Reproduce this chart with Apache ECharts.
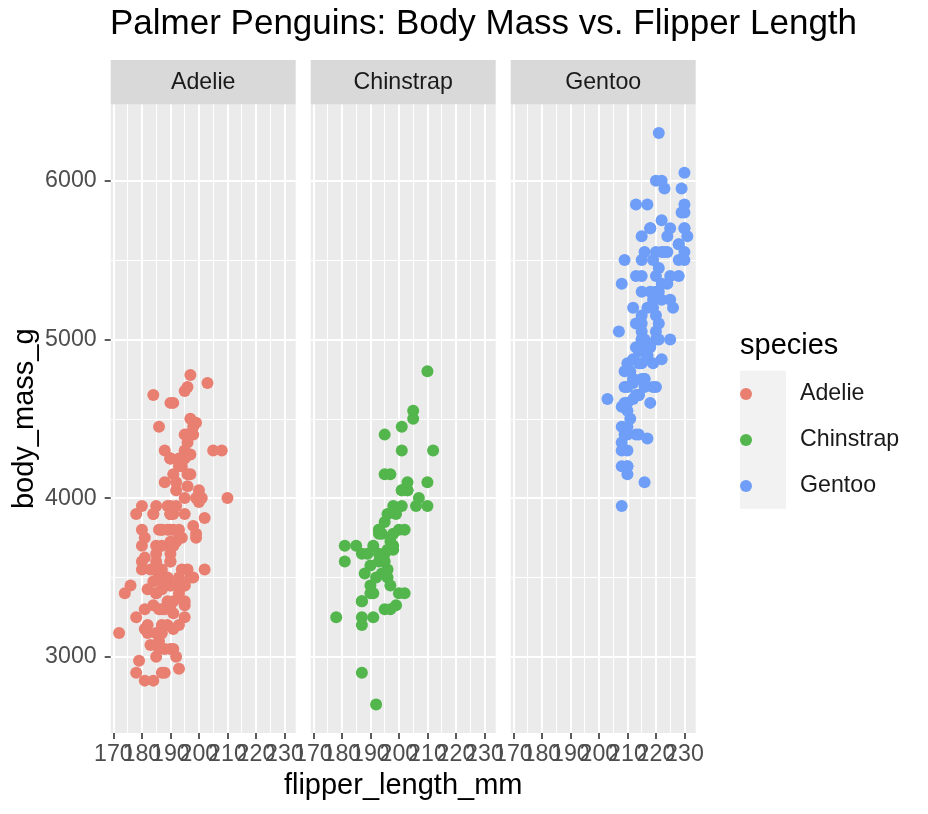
<!DOCTYPE html>
<html>
<head>
<meta charset="utf-8">
<script src="https://cdn.jsdelivr.net/npm/echarts@6/dist/echarts.min.js"></script>
<style>
  html, body { margin: 0; padding: 0; background: #ffffff; }
  #chart { width: 928px; height: 814px; }
</style>
</head>
<body>
<div id="chart"></div>
<script>
// ---------------- data ----------------
const species = ['Adelie', 'Chinstrap', 'Gentoo'];
const speciesColors = ['#E97F71', '#53B64C', '#6E9EF8'];

const adelieFlipper = [181,186,195,193,190,181,195,193,190,186,180,182,191,198,185,195,197,184,194,174,180,189,185,180,187,183,187,172,180,178,178,188,184,195,196,190,180,181,184,182,195,186,196,185,190,182,179,190,191,186,188,190,200,187,191,186,193,181,194,185,195,185,192,184,192,195,188,190,198,190,190,196,197,190,195,191,184,187,195,189,196,187,193,191,194,190,189,189,190,202,205,185,186,187,208,190,196,178,192,192,203,183,190,193,184,199,190,181,197,198,191,193,197,191,196,188,199,189,189,187,198,176,202,186,199,191,195,191,210,190,197,193,199,187,190,191,200,185,193,193,187,188,190,192,185,190,184,195,193,187,201];
const adelieMass = [3750,3800,3250,3450,3650,3625,4675,3475,4250,3300,3700,3200,3800,4400,3700,3450,4500,3325,4200,3400,3600,3800,3950,3800,3800,3550,3200,3150,3950,3250,3900,3300,3900,3325,4150,3950,3550,3300,4650,3150,3900,3100,4400,3000,4600,3425,2975,3450,4150,3500,4300,3450,4050,2900,3700,3550,3800,2850,3750,3150,4400,3600,4050,2850,3950,3350,4100,3050,4450,3600,3900,3550,4150,3700,4250,3700,3900,3550,4000,3200,4700,3800,4200,3350,3550,3800,3500,3950,3600,3550,4300,3400,4450,3300,4300,3700,4350,2900,4100,3725,4725,3075,4250,2925,3550,3750,3900,3175,4775,3825,4600,3200,4275,3900,4075,2900,3775,3350,3325,3150,3500,3450,3875,3050,4000,3275,4300,3050,4000,3325,3500,3500,4475,3425,3900,3175,3975,3400,4250,3400,3475,3050,3725,3000,3650,4250,3475,3450,3750,3700,4000];

const chinstrapFlipper = [192,196,193,188,197,198,178,197,195,198,193,194,185,201,190,201,197,181,190,195,181,191,187,193,195,197,200,200,191,205,187,201,187,203,195,199,195,210,192,205,210,187,196,196,196,201,190,212,187,198,199,201,193,203,187,197,191,203,202,194,206,189,195,207,202,193,210,198];
const chinstrapMass = [3500,3900,3650,3525,3725,3950,3250,3750,4150,3700,3800,3775,3700,4050,3575,4050,3300,3700,3450,4400,3600,3400,2900,3800,3300,4150,3400,3800,3700,4550,3200,4300,3350,4100,3600,3900,3850,4800,2700,4500,3950,3650,3550,3500,3675,4450,3400,4300,3250,3675,3325,3950,3600,4050,3350,3450,3250,4050,3800,3525,3950,3650,3650,4000,3400,3775,4100,3775];

const gentooFlipper = [211,230,210,218,215,210,211,219,209,215,214,216,214,213,210,217,210,221,209,222,218,215,213,215,215,215,216,215,210,220,222,209,207,230,220,220,213,219,208,208,208,225,210,216,222,217,210,225,213,215,210,220,210,225,217,220,208,220,208,224,208,221,214,231,219,230,214,229,220,223,216,221,221,217,216,230,209,220,215,223,212,221,212,224,212,228,218,218,212,230,218,228,212,224,214,226,216,222,203,225,219,228,215,228,216,215,210,219,208,209,216,229,213,230,217,230,217,222,214,215,222,212,213];
const gentooMass = [4500,5700,4450,5700,5400,4550,4800,5200,4400,5150,4650,5550,4650,5850,4200,5850,4150,6300,4800,5350,5700,5000,4400,5050,5000,5100,4100,5650,4600,5550,5250,4700,5050,6050,5150,5400,4950,5250,4350,5350,3950,5700,4300,4750,5550,4900,4200,5400,5100,5300,4850,5300,4400,5000,4900,5050,4300,5000,4450,5550,4200,5300,4400,5650,4700,5700,4650,5800,4700,5550,4750,5000,5100,5200,4700,5800,4600,6000,4750,5950,4625,5450,4725,5350,4750,5600,4600,5300,4875,5550,4950,5400,4750,5650,4850,5200,4925,4875,4625,5250,4850,5600,4975,5500,4725,5500,4700,5500,4575,5500,5000,5950,4650,5500,4375,5850,4875,6000,4925,4850,5750,5200,5400];

const xMajorTicks = [170, 180, 190, 200, 210, 220, 230];
const xMinorTicks = [175, 185, 195, 205, 215, 225];
const yMajorTicks = [3000, 4000, 5000, 6000];
const yMinorTicks = [3500, 4500, 5500];
const xRange = [169.05, 233.95];
const yRange = [2520, 6480];

// ---------------- layout / style ----------------
const FONT = '"Liberation Sans", Arial, Helvetica, sans-serif';
const GRID_LEFTS = [110.7, 310.7, 510.7];
const GRID_W = 185;
const GRID_TOP = 104.5;
const GRID_H = 628.5;
const STRIP_TOP = 60;
const SMALL = 23.2;
const MID = 29;

const flippers = [adelieFlipper, chinstrapFlipper, gentooFlipper];
const masses = [adelieMass, chinstrapMass, gentooMass];

// the crowded x tick labels are split over two label-only axes so that
// ECharts draws every one of them (overlapping, as in the reference)
const xLabelsOdd = xMajorTicks.filter(function (v, k) { return k % 2 === 0; });
const xLabelsEven = xMajorTicks.filter(function (v, k) { return k % 2 === 1; });

const grids = [], xAxes = [], yAxes = [], series = [], graphics = [];
const plain = function (v) { return String(Math.round(v)); };

GRID_LEFTS.forEach(function (left, i) {
  grids.push({
    left: left, top: GRID_TOP, width: GRID_W, height: GRID_H,
    show: true, backgroundColor: '#EBEBEB', borderWidth: 0,
    containLabel: false, outerBoundsMode: 'none'
  });
});

function xLabelStyle(values) {
  return { show: true, customValues: values, fontSize: SMALL, color: '#4D4D4D', margin: 10,
           fontFamily: FONT, hideOverlap: false, formatter: plain };
}

// x axes 0..2: data axes (ticks, labels 170/190/210/230, major grid)
GRID_LEFTS.forEach(function (left, i) {
  const ax = {
    type: 'value', gridIndex: i, min: xRange[0], max: xRange[1], position: 'bottom',
    axisLine: { show: false },
    axisTick: { show: true, length: 6, customValues: xMajorTicks, lineStyle: { color: '#333333', width: 1.6 } },
    axisLabel: xLabelStyle(xLabelsOdd),
    splitLine: { show: true, lineStyle: { color: '#FFFFFF', width: 2 } }
  };
  if (i === 1) {
    ax.name = 'flipper_length_mm';
    ax.nameLocation = 'middle';
    ax.nameGap = 38;
    ax.nameTextStyle = { fontSize: MID, color: '#000000', fontFamily: FONT };
  }
  xAxes.push(ax);
});
// x axes 3..5: remaining labels 180/200/220
GRID_LEFTS.forEach(function (left, i) {
  xAxes.push({
    type: 'value', gridIndex: i, min: xRange[0], max: xRange[1], position: 'bottom',
    axisLine: { show: false },
    axisTick: { show: false, customValues: xLabelsEven },
    axisLabel: xLabelStyle(xLabelsEven),
    splitLine: { show: false }
  });
});
// x axes 6..8: minor grid
GRID_LEFTS.forEach(function (left, i) {
  xAxes.push({
    type: 'value', gridIndex: i, min: xRange[0], max: xRange[1], position: 'top',
    axisLine: { show: false },
    axisTick: { show: false, customValues: xMinorTicks },
    axisLabel: { show: false, customValues: xMinorTicks },
    splitLine: { show: true, lineStyle: { color: '#FFFFFF', width: 1 } }
  });
});
// major y axes
GRID_LEFTS.forEach(function (left, i) {
  const ax = {
    type: 'value', gridIndex: i, min: yRange[0], max: yRange[1], position: 'left',
    axisLine: { show: false },
    axisTick: { show: i === 0, length: 6, customValues: yMajorTicks, lineStyle: { color: '#333333', width: 1.6 } },
    axisLabel: { show: i === 0, customValues: yMajorTicks, fontSize: SMALL, color: '#4D4D4D', margin: 14,
                 fontFamily: FONT, formatter: plain, showMinLabel: true, showMaxLabel: true },
    splitLine: { show: true, lineStyle: { color: '#FFFFFF', width: 2 } }
  };
  if (i === 0) {
    ax.name = 'body_mass_g';
    ax.nameLocation = 'middle';
    ax.nameGap = 71;
    ax.nameTextStyle = { fontSize: MID, color: '#000000', fontFamily: FONT };
  }
  yAxes.push(ax);
});
// minor y axes
GRID_LEFTS.forEach(function (left, i) {
  yAxes.push({
    type: 'value', gridIndex: i, min: yRange[0], max: yRange[1], position: 'right',
    axisLine: { show: false },
    axisTick: { show: false, customValues: yMinorTicks },
    axisLabel: { show: false, customValues: yMinorTicks },
    splitLine: { show: true, lineStyle: { color: '#FFFFFF', width: 1 } }
  });
});

species.forEach(function (name, i) {
  const data = flippers[i].map(function (f, k) { return [f, masses[i][k]]; });
  series.push({
    name: name, type: 'scatter', xAxisIndex: i, yAxisIndex: i,
    data: data, symbol: 'circle', symbolSize: 12,
    itemStyle: { color: speciesColors[i], opacity: 1 },
    emphasis: { disabled: true }
  });
  // facet strip
  graphics.push({
    type: 'rect', silent: true,
    shape: { x: GRID_LEFTS[i], y: STRIP_TOP, width: GRID_W, height: GRID_TOP - STRIP_TOP },
    style: { fill: '#D9D9D9' }
  });
  graphics.push({
    type: 'text', silent: true,
    x: GRID_LEFTS[i] + GRID_W / 2, y: (STRIP_TOP + GRID_TOP) / 2,
    style: { text: name, font: SMALL + 'px ' + FONT, fill: '#1A1A1A',
             align: 'center', verticalAlign: 'middle', textAlign: 'center', textVerticalAlign: 'middle' }
  });
});

// legend key background + legend title
graphics.push({
  type: 'rect', silent: true, z: 0,
  shape: { x: 740, y: 370.7, width: 46, height: 138 },
  style: { fill: '#F2F2F2' }
});
graphics.push({
  type: 'text', silent: true,
  x: 740, y: 346,
  style: { text: 'species', font: MID + 'px ' + FONT, fill: '#000000',
           align: 'left', verticalAlign: 'middle', textAlign: 'left', textVerticalAlign: 'middle' }
});

const chart = echarts.init(document.getElementById('chart'), null, { renderer: 'canvas' });
chart.setOption({
  animation: false,
  backgroundColor: '#FFFFFF',
  textStyle: { fontFamily: FONT },
  title: {
    text: 'Palmer Penguins: Body Mass vs. Flipper Length',
    left: 110, top: 7, padding: 0,
    textStyle: { fontSize: 35, fontWeight: 'normal', color: '#000000', fontFamily: FONT }
  },
  legend: {
    data: species,
    orient: 'vertical',
    left: 740, top: 371, padding: 0, itemGap: 0,
    itemWidth: 46, itemHeight: 12, icon: 'circle',
    selectedMode: false,
    formatter: '{t|{name}}',
    textStyle: {
      fontSize: SMALL, color: '#1A1A1A', lineHeight: 46, fontFamily: FONT,
      rich: { t: { fontSize: SMALL, color: '#1A1A1A', lineHeight: 46, fontFamily: FONT, padding: [0, 0, 0, 26] } }
    }
  },
  grid: grids,
  xAxis: xAxes,
  yAxis: yAxes,
  series: series,
  graphic: graphics
});
</script>
</body>
</html>
